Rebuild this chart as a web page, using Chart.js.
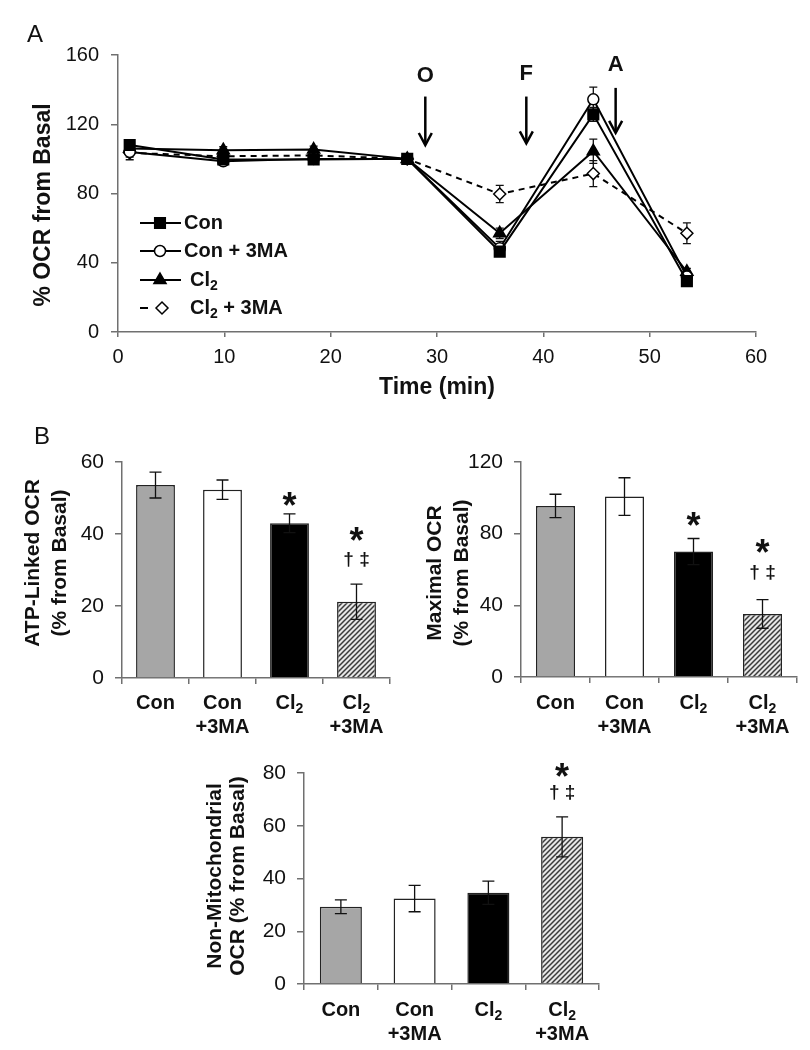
<!DOCTYPE html>
<html><head><meta charset="utf-8">
<script src="https://cdn.jsdelivr.net/npm/chart.js"></script>
<style>
html,body{margin:0;padding:0;background:#fff;}
body{width:810px;height:1050px;overflow:hidden;position:relative;}
canvas{position:absolute;}
</style></head><body>
<canvas id="cA" width="810" height="420" style="left:0px;top:0px"></canvas>
<canvas id="cB1" width="410" height="320" style="left:0px;top:420px"></canvas>
<canvas id="cB2" width="400" height="320" style="left:410px;top:420px"></canvas>
<canvas id="cB3" width="460" height="310" style="left:180px;top:740px"></canvas>
<script>
// ---------------- DATA ----------------
// Panel A: time course (% OCR from basal)
const timeMin   = [1.1, 9.9, 18.4, 27.2, 35.9, 44.7, 53.5];
const conOCR    = [108, 99.6, 99.6, 100, 46.4, 125.7, 29.4];
const con3maOCR = [104, 98.6, 100, 100, 48.4, 134.4, 32];
const cl2OCR    = [106, 105, 105.4, 100, 57, 104.4, 34.8];
const cl23maOCR = [103.5, 101.5, 102, 100, 79.7, 91.5, 57];
const conErr    = [2, 1.5, 1.5, 1, 2, 4, 2];
const con3maErr = [3, 2, 2, 1, 4, 7, 2];
const cl2Err    = [3, 2, 2, 1, 3, 7, 2];
const cl23maErr = [4, 2, 2, 1, 5, 7.5, 6];
const seriesNames = ['Con', 'Con + 3MA', 'Cl\u2082', 'Cl\u2082 + 3MA'];
const timeTicks = [0, 10, 20, 30, 40, 50, 60];
const ocrTicks  = [0, 40, 80, 120, 160];
// injection arrows (time, value of shaft top, value of tip, label, label value)
const arrowTime   = [28.9, 38.4, 46.8];
const arrowFrom   = [136, 136, 141];
const arrowTo     = [108, 109, 115];
const arrowText   = ['O', 'F', 'A'];
const arrowTextAt = [148, 149, 154];

// Panel B: bar charts
const groups = [['Con'], ['Con', '+3MA'], ['Cl\u2082'], ['Cl\u2082', '+3MA']];
const atpLinked    = [53.6, 52.3, 43, 21.2];
const atpErr       = [3.6, 2.7, 2.6, 4.9];
const atpTicks     = [0, 20, 40, 60];
const maximal      = [95.5, 100.7, 70, 35.2];
const maximalErr   = [6.5, 10.5, 7.3, 8];
const maximalTicks = [0, 40, 80, 120];
const nonMito      = [29.3, 32.4, 34.6, 55.8];
const nonMitoErr   = [2.6, 5, 4.4, 7.6];
const nonMitoTicks = [0, 20, 40, 60, 80];
const atpStar      = ['', '', '*', '*'];
const atpDagger    = ['', '', '', '\u2020 \u2021'];
const maxStar      = ['', '', '*', '*'];
const maxDagger    = ['', '', '', '\u2020 \u2021'];
const nmStar       = ['', '', '', '*'];
const nmDagger     = ['', '', '', '\u2020 \u2021'];

// ---------------- STYLE / HELPERS ----------------
const FF = "'Liberation Sans', Arial, Helvetica, sans-serif";
const INK = '#111';
const AXIS = '#707070';

function hatchPattern() {
  const c = document.createElement('canvas'); c.width = 5; c.height = 5;
  const g = c.getContext('2d');
  g.fillStyle = '#e6e6e6'; g.fillRect(0, 0, 5, 5);
  g.strokeStyle = '#3a3a3a'; g.lineWidth = 1.5;
  g.beginPath();
  g.moveTo(0, 5); g.lineTo(5, 0);
  g.moveTo(-1, 1); g.lineTo(1, -1);
  g.moveTo(4, 6); g.lineTo(6, 4);
  g.stroke();
  return g.createPattern(c, 'repeat');
}
const barFills = ['#a6a6a6', '#ffffff', '#000000', hatchPattern()];

// draws text where the character U+2082 is rendered as a lowered, smaller "2"
function richText(ctx, str, x, y, size, weight, align) {
  const segs = [];
  str.split('\u2082').forEach((p, i, a) => {
    if (p) segs.push({ t: p, sub: false });
    if (i < a.length - 1) segs.push({ t: '2', sub: true });
  });
  const sub = Math.round(size * 0.7);
  let w = 0;
  segs.forEach(s => { ctx.font = weight + ' ' + (s.sub ? sub : size) + 'px ' + FF; s.w = ctx.measureText(s.t).width; w += s.w; });
  let cx = align === 'center' ? x - w / 2 : x;
  ctx.textAlign = 'left'; ctx.textBaseline = 'middle';
  segs.forEach(s => {
    ctx.font = weight + ' ' + (s.sub ? sub : size) + 'px ' + FF;
    ctx.fillText(s.t, cx, s.sub ? y + size * 0.32 : y);
    cx += s.w;
  });
}

function textLayer(items) {
  return { id: 'textLayer', afterDraw(chart) {
    const ctx = chart.ctx;
    items.forEach(it => {
      ctx.save();
      ctx.font = it.font; ctx.fillStyle = INK;
      ctx.textAlign = 'center'; ctx.textBaseline = 'middle';
      ctx.translate(it.x, it.y);
      if (it.rot) ctx.rotate(-Math.PI / 2);
      const lines = Array.isArray(it.text) ? it.text : [it.text];
      lines.forEach((l, i) => ctx.fillText(l, 0, i * (it.lh || 0)));
      ctx.restore();
    });
  }};
}

// category labels drawn at the category positions of the x scale
function categoryLabels(gap, lh, size) {
  return { id: 'categoryLabels', afterDraw(chart) {
    const ctx = chart.ctx, xs = chart.scales.x;
    ctx.save(); ctx.fillStyle = INK;
    chart.data.labels.forEach((lab, i) => {
      const x = xs.getPixelForValue(i);
      lab.forEach((line, k) => richText(ctx, line, x, chart.chartArea.bottom + gap + k * lh, size, 'bold', 'center'));
    });
    ctx.restore();
  }};
}

function errorBars(errs, cap, lw, under) {
  const draw = chart => {
    const ctx = chart.ctx, ys = chart.scales.y;
    ctx.save(); ctx.strokeStyle = INK; ctx.lineWidth = lw;
    errs.forEach((arr, di) => {
      const meta = chart.getDatasetMeta(di);
      const vals = chart.data.datasets[di].data;
      meta.data.forEach((el, j) => {
        const v = typeof vals[j] === 'object' ? vals[j].y : vals[j];
        const t = ys.getPixelForValue(v + arr[j]);
        const b = ys.getPixelForValue(v - arr[j]);
        const x = el.x;
        ctx.beginPath();
        ctx.moveTo(x, t); ctx.lineTo(x, b);
        ctx.moveTo(x - cap / 2, t); ctx.lineTo(x + cap / 2, t);
        ctx.moveTo(x - cap / 2, b); ctx.lineTo(x + cap / 2, b);
        ctx.stroke();
      });
    });
    ctx.restore();
  };
  return under ? { id: 'errorBars', beforeDatasetsDraw: draw } : { id: 'errorBars', afterDatasetsDraw: draw };
}

function sigMarks(errs, stars, daggers, starOff, dagOff) {
  return { id: 'sigMarks', afterDatasetsDraw(chart) {
    const ctx = chart.ctx, ys = chart.scales.y;
    const meta = chart.getDatasetMeta(0), vals = chart.data.datasets[0].data;
    ctx.save(); ctx.fillStyle = INK; ctx.textAlign = 'center'; ctx.textBaseline = 'alphabetic';
    meta.data.forEach((el, j) => {
      const top = ys.getPixelForValue(vals[j] + errs[j]);
      if (stars[j]) {
        const off = daggers[j] ? starOff[1] : starOff[0];
        const s = 36; ctx.font = 'bold ' + s + 'px ' + FF;
        ctx.fillText(stars[j], el.x, top - off + 0.58 * s);
      }
      if (daggers[j]) {
        const s = 19; ctx.font = 'bold ' + s + 'px ' + FF;
        ctx.fillText(daggers[j], el.x, top - dagOff + 0.3 * s);
      }
    });
    ctx.restore();
  }};
}

function marker(ctx, style, x, y, r, fill) {
  ctx.beginPath();
  if (style === 'rect') { const s = Math.SQRT1_2 * r; ctx.rect(x - s, y - s, 2 * s, 2 * s); }
  else if (style === 'circle') { ctx.arc(x, y, r, 0, Math.PI * 2); }
  else if (style === 'triangle') {
    for (let k = 0; k < 3; k++) {
      const a = k * 2 * Math.PI / 3;
      const px = x + Math.sin(a) * r, py = y - Math.cos(a) * r;
      k ? ctx.lineTo(px, py) : ctx.moveTo(px, py);
    }
    ctx.closePath();
  } else if (style === 'rectRot') {
    ctx.moveTo(x - r, y); ctx.lineTo(x, y - r); ctx.lineTo(x + r, y); ctx.lineTo(x, y + r); ctx.closePath();
  }
  ctx.fillStyle = fill; ctx.fill();
  ctx.strokeStyle = '#000'; ctx.lineWidth = 1.5; ctx.stroke();
}

const legendPlugin = { id: 'insetLegend', afterDraw(chart) {
  const ctx = chart.ctx;
  const rowsY = [223, 251, 280, 308];
  const textX = [184, 184, 190, 190];
  chart.data.datasets.forEach((ds, i) => {
    const y = rowsY[i];
    const dashed = ds.borderDash && ds.borderDash.length;
    ctx.save();
    ctx.strokeStyle = '#000'; ctx.lineWidth = 2;
    ctx.beginPath();
    if (dashed) { ctx.moveTo(140, y); ctx.lineTo(148, y); }
    else { ctx.moveTo(140, y); ctx.lineTo(181, y); }
    ctx.stroke();
    marker(ctx, ds.pointStyle, dashed ? 162 : 160, y, ds.pointRadius, ds.pointBackgroundColor);
    ctx.fillStyle = INK;
    richText(ctx, ds.label, textX[i], y, 20, 'bold', 'left');
    ctx.restore();
  });
}};

const arrowPlugin = { id: 'arrows', afterDraw(chart) {
  const ctx = chart.ctx, xs = chart.scales.x, ys = chart.scales.y;
  ctx.save(); ctx.strokeStyle = '#000'; ctx.fillStyle = INK; ctx.lineWidth = 2.5;
  arrowTime.forEach((t, i) => {
    const x = xs.getPixelForValue(t);
    const y0 = ys.getPixelForValue(arrowFrom[i]);
    const y1 = ys.getPixelForValue(arrowTo[i]);
    ctx.beginPath(); ctx.moveTo(x, y0); ctx.lineTo(x, y1 - 1); ctx.stroke();
    ctx.beginPath(); ctx.moveTo(x - 6.5, y1 - 12); ctx.lineTo(x, y1); ctx.lineTo(x + 6.5, y1 - 12); ctx.stroke();
    ctx.font = 'bold 22px ' + FF; ctx.textAlign = 'center'; ctx.textBaseline = 'middle';
    ctx.fillText(arrowText[i], x, ys.getPixelForValue(arrowTextAt[i]));
  });
  ctx.restore();
}};

function yAxis(ticks, width, fontSize, tl, pad) {
  return {
    min: ticks[0], max: ticks[ticks.length - 1],
    afterBuildTicks(s) { s.ticks = ticks.map(v => ({ value: v })); },
    ticks: { color: INK, font: { family: FF, size: fontSize }, padding: pad },
    grid: { drawOnChartArea: false, drawTicks: true, tickLength: tl, color: AXIS, lineWidth: 1.5 },
    border: { color: AXIS, width: 1.5 },
    afterFit(s) { s.width = width; }
  };
}

// ---------------- PANEL A ----------------
const pts = arr => arr.map((v, i) => ({ x: timeMin[i], y: v }));
function lineDs(label, values, style, r, fill, dash) {
  return { label, data: pts(values), borderColor: '#000', backgroundColor: fill, borderWidth: 2,
    borderDash: dash || [], pointStyle: style, pointRadius: r, pointHoverRadius: r,
    pointBackgroundColor: fill, pointBorderColor: '#000', pointBorderWidth: 1.5, tension: 0, fill: false };
}
new Chart(document.getElementById('cA'), {
  type: 'line',
  data: { datasets: [
    lineDs(seriesNames[0], conOCR, 'rect', 7.5, '#000'),
    lineDs(seriesNames[1], con3maOCR, 'circle', 5.5, '#fff'),
    lineDs(seriesNames[2], cl2OCR, 'triangle', 7, '#000'),
    lineDs(seriesNames[3], cl23maOCR, 'rectRot', 6, '#fff', [6, 5])
  ]},
  options: {
    responsive: false, animation: false, devicePixelRatio: 1,
    layout: { padding: { left: 0, top: 55, right: 54, bottom: 0 } },
    plugins: { legend: { display: false }, tooltip: { enabled: false } },
    scales: {
      x: {
        type: 'linear', min: timeTicks[0], max: timeTicks[timeTicks.length - 1],
        afterBuildTicks(s) { s.ticks = timeTicks.map(v => ({ value: v })); },
        ticks: { color: INK, font: { family: FF, size: 20 }, padding: 8, maxRotation: 0 },
        grid: { drawOnChartArea: false, drawTicks: true, tickLength: 5, color: AXIS, lineWidth: 1.5 },
        border: { color: AXIS, width: 1.5 },
        title: { display: true, text: 'Time (min)', color: INK, font: { family: FF, size: 23, weight: 'bold' }, padding: { top: 0, bottom: 19 } },
        afterFit(s) { s.height = 88; }
      },
      y: yAxis(ocrTicks, 118, 20, 7, 12)
    }
  },
  plugins: [
    errorBars([conErr, con3maErr, cl2Err, cl23maErr], 8, 1.3, true),
    arrowPlugin, legendPlugin,
    textLayer([
      { text: 'A', x: 35, y: 35, font: '24px ' + FF },
      { text: '% OCR from Basal', x: 44, y: 205, rot: true, font: 'bold 23px ' + FF }
    ])
  ]
});

// ---------------- PANEL B ----------------
function barChart(id, vals, errs, ticks, yw, xh, pad, pct, stars, daggers, starOff, dagOff, labelGap, texts) {
  new Chart(document.getElementById(id), {
    type: 'bar',
    data: { labels: groups, datasets: [{ data: vals, backgroundColor: barFills, borderColor: '#222',
      borderWidth: 1.5, borderSkipped: 'start', barPercentage: pct, categoryPercentage: 1 }] },
    options: {
      responsive: false, animation: false, devicePixelRatio: 1,
      layout: { padding: pad },
      plugins: { legend: { display: false }, tooltip: { enabled: false } },
      scales: {
        x: {
          ticks: { display: false },
          grid: { drawOnChartArea: false, drawTicks: true, tickLength: 6, color: AXIS, lineWidth: 1.5, offset: true },
          border: { color: AXIS, width: 1.5 },
          afterFit(s) { s.height = xh; }
        },
        y: yAxis(ticks, yw, 21, 7, 11)
      }
    },
    plugins: [errorBars([errs], 12, 1.3, false), sigMarks(errs, stars, daggers, starOff, dagOff),
      categoryLabels(labelGap, 24, 20), textLayer(texts)]
  });
}

barChart('cB1', atpLinked, atpErr, atpTicks, 122, 62, { left: 0, top: 42, right: 20, bottom: 0 }, 0.58,
  atpStar, atpDagger, [17, 52], 25, 25, [
    { text: 'B', x: 42, y: 17, font: '24px ' + FF },
    { text: ['ATP-Linked OCR', '(% from Basal)'], x: 33, y: 143, lh: 27, rot: true, font: 'bold 21px ' + FF }
  ]);
barChart('cB2', maximal, maximalErr, maximalTicks, 111, 63, { left: 0, top: 42, right: 13, bottom: 0 }, 0.565,
  maxStar, maxDagger, [21, 55], 27, 26, [
    { text: ['Maximal OCR', '(% from Basal)'], x: 25, y: 153, lh: 27, rot: true, font: 'bold 21px ' + FF }
  ]);
barChart('cB3', nonMito, nonMitoErr, nonMitoTicks, 124, 66, { left: 0, top: 33, right: 41, bottom: 0 }, 0.57,
  nmStar, nmDagger, [20, 49], 24, 26, [
    { text: ['Non-Mitochondrial', 'OCR (% from Basal)'], x: 35, y: 136, lh: 23, rot: true, font: 'bold 21px ' + FF }
  ]);
</script>
</body></html>
